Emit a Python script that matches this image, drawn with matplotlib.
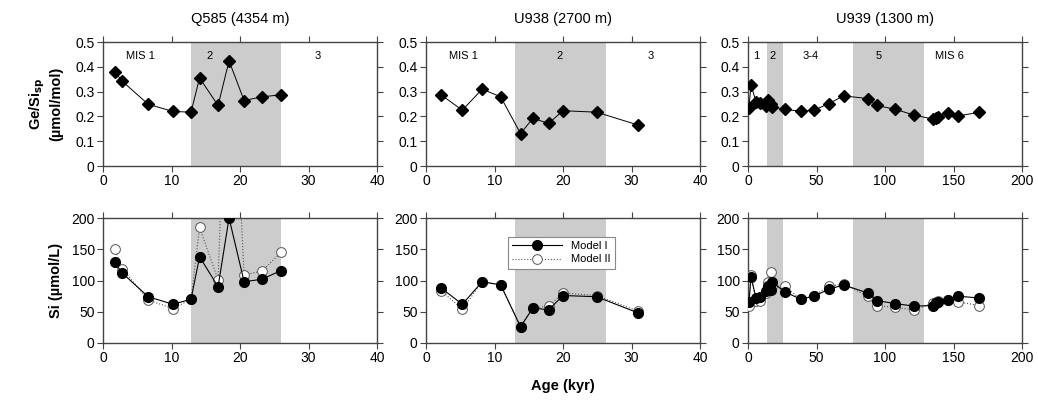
import matplotlib
matplotlib.use("Agg")
import matplotlib.pyplot as plt

plt.rcParams['font.family'] = ['Liberation Sans', 'DejaVu Sans']

# --- Q585 (4354 m) ---
q585_age = [1.7, 2.8, 6.6, 10.2, 12.85, 14.1, 16.8, 18.4, 20.6, 23.2, 26.0]
q585_gesi = [0.380, 0.342, 0.249, 0.220, 0.217, 0.355, 0.244, 0.424, 0.264, 0.279, 0.287]
q585_si1 = [129, 112, 74, 62, 70, 138, 90, 200, 98, 102, 116]
q585_si2 = [151, 119, 69, 55, 70, 185, 101, 600, 109, 115, 145]

# --- U938 (2700 m) ---
u938_age = [2.2, 5.3, 8.2, 10.9, 13.8, 15.6, 17.9, 20.0, 24.9, 31.0]
u938_gesi = [0.287, 0.225, 0.310, 0.279, 0.131, 0.192, 0.172, 0.223, 0.217, 0.165]
u938_si1 = [88, 62, 98, 93, 26, 56, 53, 76, 74, 48]
u938_si2 = [84, 54, 98, 93, 26, 56, 59, 80, 76, 51]

# --- U939 (1300 m) ---
u939_age = [0.7, 2.2, 5.8, 8.8, 13.1, 14.8, 16.8, 17.8, 26.8, 38.4, 48.2, 59.1, 69.8,
            87.3, 93.9, 107.3, 121.4, 135.3, 137.2, 138.9, 146.2, 153.0, 168.6]
u939_gesi = [0.235, 0.328, 0.259, 0.255, 0.243, 0.265, 0.252, 0.239, 0.228, 0.221, 0.225,
             0.252, 0.283, 0.272, 0.244, 0.229, 0.205, 0.189, 0.194, 0.198, 0.214, 0.202, 0.216]
u939_si1 = [65, 106, 72, 74, 84, 91, 85, 97, 82, 70, 75, 86, 93, 80, 68, 63, 59, 60, 64, 66, 69, 75, 72]
u939_si2 = [59, 109, 68, 68, 80, 97, 113, 91, 91, 70, 76, 91, 94, 75, 60, 57, 53, 64, 66, 68, 69, 66, 60]

sites = [
    dict(title="Q585 (4354 m)", age=q585_age, gesi=q585_gesi, si1=q585_si1, si2=q585_si2,
         xmax=40, xstep=10, shade=[(12.8, 26.0)],
         mis=[(5.4, "MIS 1"), (15.5, "2"), (31.4, "3")]),
    dict(title="U938 (2700 m)", age=u938_age, gesi=u938_gesi, si1=u938_si1, si2=u938_si2,
         xmax=40, xstep=10, shade=[(13.0, 26.3)],
         mis=[(5.4, "MIS 1"), (19.5, "2"), (32.8, "3")]),
    dict(title="U939 (1300 m)", age=u939_age, gesi=u939_gesi, si1=u939_si1, si2=u939_si2,
         xmax=200, xstep=50, shade=[(13.6, 25.3), (76.6, 128.5)],
         mis=[(5.8, "1"), (18, "2"), (45.8, "3-4"), (95.4, "5"), (146.7, "MIS 6")]),
]

W, H = 1038, 403
fig = plt.figure(figsize=(W / 100, H / 100), dpi=100)

lefts = [103, 426, 748]
spine_col = '#444444'
shade_col = '#cccccc'


def style(ax, xmax, xstep):
    ax.set_xlim(0, xmax)
    ax.set_xticks(range(0, xmax + 1, xstep))
    ax.tick_params(direction='out', top=True, right=True, labeltop=False,
                   labelright=False, length=4, width=0.8, color=spine_col,
                   labelsize=10, pad=2)
    for s in ax.spines.values():
        s.set_color(spine_col)
        s.set_linewidth(1.0)


for i, site in enumerate(sites):
    l = lefts[i] / W
    w = 274 / W
    top = fig.add_axes([l, (H - 166) / H, w, 124 / H])
    bot = fig.add_axes([l, (H - 343) / H, w, 125 / H])

    for a, b in site['shade']:
        top.axvspan(a, b, color=shade_col, lw=0, zorder=0)
        bot.axvspan(a, b, color=shade_col, lw=0, zorder=0)

    top.plot(site['age'], site['gesi'], color='black', lw=0.7, marker='D',
             ms=6.5, mfc='black', mec='black', zorder=3)
    top.set_ylim(0, 0.5)
    top.set_yticks([0, 0.1, 0.2, 0.3, 0.4, 0.5])
    top.set_yticklabels(['0', '0.1', '0.2', '0.3', '0.4', '0.5'])
    style(top, site['xmax'], site['xstep'])
    for x, txt in site['mis']:
        top.text(x, 0.444, txt, ha='center', va='center', fontsize=8)
    top.set_title(site['title'], fontsize=10.5, pad=14)

    l2, = bot.plot(site['age'], site['si2'], color='#555555', lw=0.8, ls=':',
                   marker='o', ms=7, mfc='white', mec='#555555', mew=0.7, zorder=3,
                   label='Model II')
    l1, = bot.plot(site['age'], site['si1'], color='black', lw=0.8, marker='o',
                   ms=7, mfc='black', mec='black', zorder=4, label='Model I')
    bot.set_ylim(0, 200)
    bot.set_yticks([0, 50, 100, 150, 200])
    style(bot, site['xmax'], site['xstep'])

    if i == 0:
        top.set_ylabel("Ge/Si$_{\\mathbf{sp}}$\n(µmol/mol)", fontsize=10.5,
                       fontweight='bold', labelpad=9, linespacing=1.15)
        bot.set_ylabel("Si (µmol/L)", fontsize=10.5, fontweight='bold', labelpad=6)
    if i == 1:
        bot.set_xlabel("Age (kyr)", fontsize=10.5, fontweight='bold', labelpad=10)
        leg = bot.legend(handles=[l1, l2], loc='upper center',
                         bbox_to_anchor=(0.495, 0.895), fontsize=8,
                         frameon=True, fancybox=False, framealpha=1,
                         edgecolor='#888888', handlelength=4.5,
                         borderpad=0.4, labelspacing=0.3)
        leg.get_frame().set_linewidth(0.8)
        leg.set_zorder(10)

fig.savefig("out.png", dpi=100)
